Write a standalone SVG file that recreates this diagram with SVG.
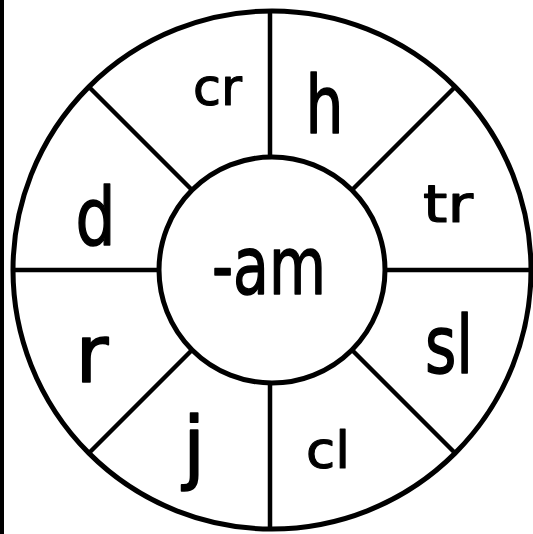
<svg xmlns="http://www.w3.org/2000/svg" width="533" height="534" viewBox="0 0 533 534">
<style>
.ring{fill:none;stroke:#000;stroke-width:5}
.ln{stroke:#000;stroke-width:4.5;stroke-linecap:butt}
.big{font-family:"DejaVu Sans",sans-serif;font-size:80px;fill:#000;stroke:#000;stroke-width:1.6;stroke-linejoin:round;text-anchor:middle}
.sm{font-family:"DejaVu Sans",sans-serif;font-size:52px;fill:#000;stroke:#000;stroke-width:1.2;stroke-linejoin:round;text-anchor:middle}
</style>
<rect x="0" y="0" width="533" height="534" fill="#fff"/>
<rect x="0" y="0" width="4" height="534" fill="#000"/>
<g id="wheel">
<circle class="ring" cx="272" cy="270" r="259"/>
</g>
<g id="connectors">
<line class="ln" x1="270" y1="11" x2="270" y2="157"/>
<line class="ln" x1="270" y1="383" x2="270" y2="529"/>
<line class="ln" x1="13" y1="270" x2="159" y2="270"/>
<line class="ln" x1="385" y1="270" x2="531" y2="270"/>
<line class="ln" x1="89" y1="87" x2="192" y2="190"/>
<line class="ln" x1="455" y1="87" x2="352" y2="190"/>
<line class="ln" x1="89" y1="453" x2="192" y2="350"/>
<line class="ln" x1="455" y1="453" x2="352" y2="350"/>
</g>
<g id="center">
<circle class="ring" cx="272" cy="270" r="113" fill="#fff"/>
<text class="big" x="269" y="294" font-size="62" textLength="114" lengthAdjust="spacingAndGlyphs">-am</text>
</g>
<g id="n-cr"><text class="sm" x="217.5" y="105" textLength="49" lengthAdjust="spacingAndGlyphs">cr</text></g>
<g id="n-h"><text class="big" x="324.5" y="133" textLength="38" lengthAdjust="spacingAndGlyphs">h</text></g>
<g id="n-tr"><text class="sm" x="448" y="222" textLength="50" lengthAdjust="spacingAndGlyphs">tr</text></g>
<g id="n-d"><text class="big" x="95.5" y="245" textLength="40" lengthAdjust="spacingAndGlyphs">d</text></g>
<g id="n-r"><text class="big" x="92" y="382">r</text></g>
<g id="n-sl"><text class="big" x="449" y="373" font-size="76" textLength="48" lengthAdjust="spacingAndGlyphs">sl</text></g>
<g id="n-j"><text class="big" x="194" y="474" font-size="76">j</text></g>
<g id="n-cl"><text class="sm" x="328" y="468" textLength="44" lengthAdjust="spacingAndGlyphs">cl</text></g>
</svg>
